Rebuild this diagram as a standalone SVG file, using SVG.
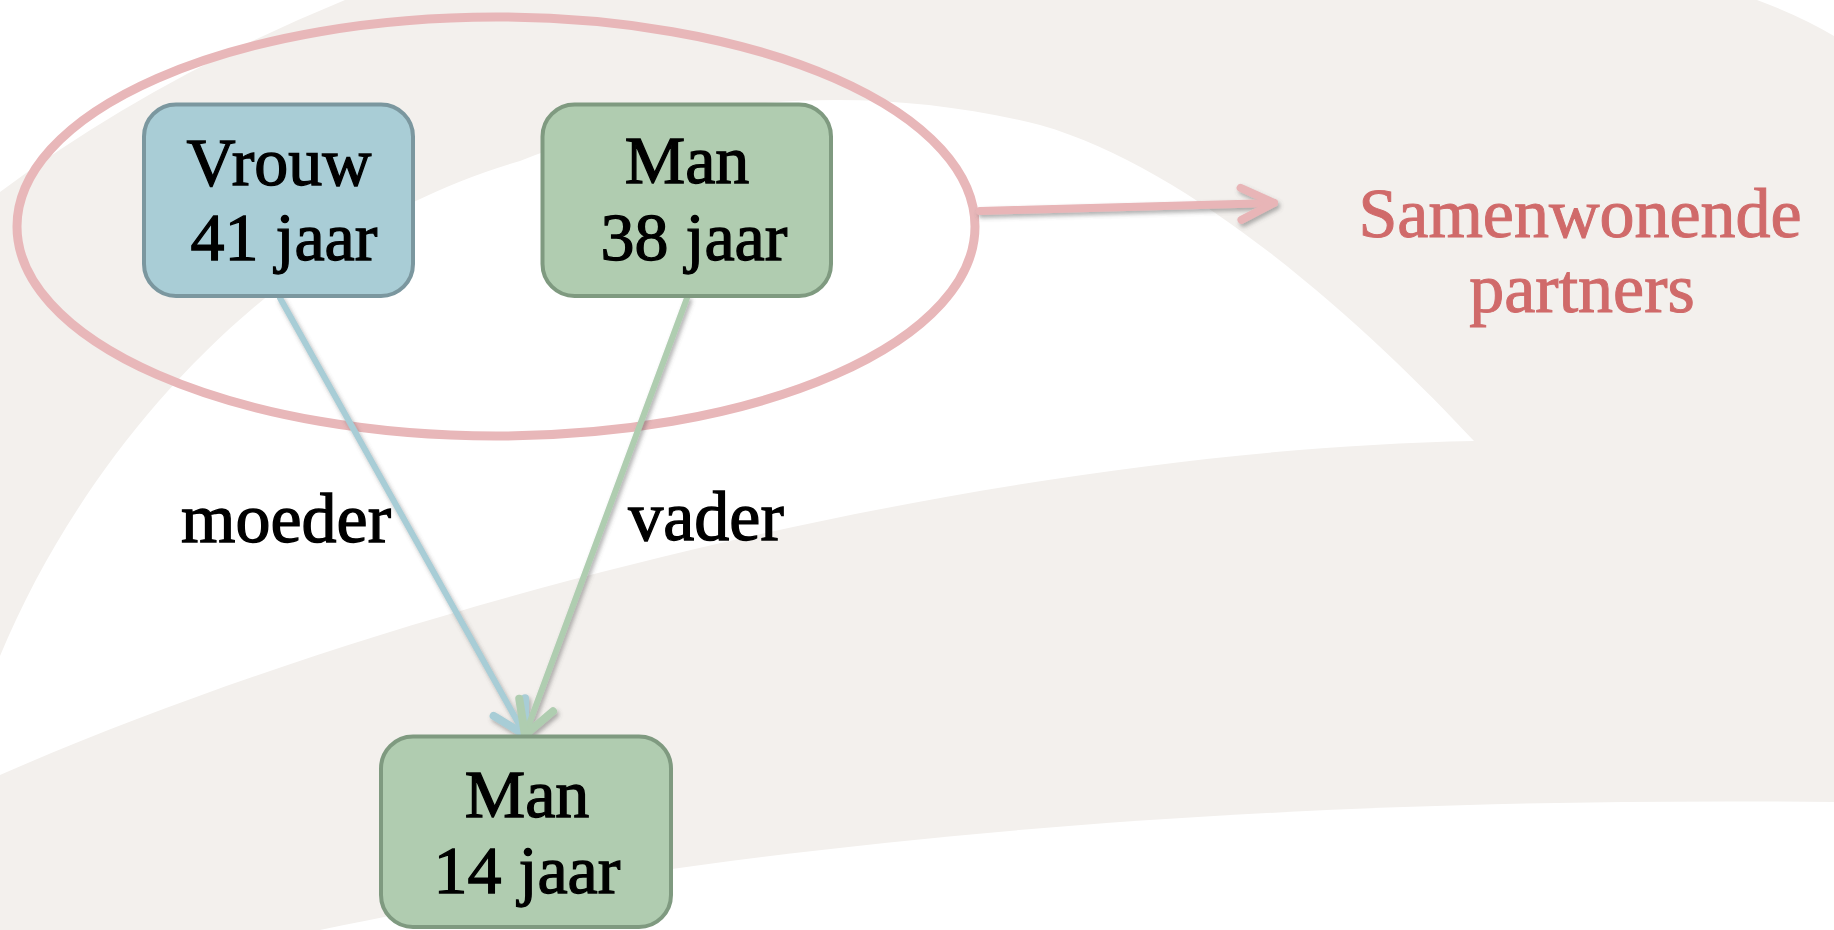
<svg xmlns="http://www.w3.org/2000/svg" width="1834" height="930" viewBox="0 0 1834 930">
  <defs>
    <style>
      .node-text { font-family: "Liberation Serif", "Times New Roman", serif; font-size: 68px; fill: #000; stroke: #000; stroke-width: 1.3px; text-anchor: middle; }
      .label { font-family: "Liberation Serif", "Times New Roman", serif; font-size: 70px; fill: #000; stroke: #000; stroke-width: 1.3px; text-anchor: middle; }
      .pink-text { font-family: "Liberation Serif", "Times New Roman", serif; font-size: 70px; fill: #d06a6a; stroke: #d06a6a; stroke-width: 1px; text-anchor: middle; }
      .box-blue { fill: #a9cdd6; stroke: #7b979f; stroke-width: 4; }
      .box-green { fill: #b0ccb0; stroke: #7f9a80; stroke-width: 4; }
      .conn { fill: none; stroke-linecap: round; stroke-linejoin: round; }
    </style>
    <filter id="shadow" x="-10%" y="-10%" width="130%" height="130%">
      <feDropShadow dx="2" dy="3" stdDeviation="2" flood-color="#555" flood-opacity="0.45"/>
    </filter>
    <marker id="arrow-blue" markerUnits="userSpaceOnUse" viewBox="-40 -25 45 50" refX="0" refY="0" markerWidth="45" markerHeight="50" orient="auto">
      <polyline points="-32,-18 0,0 -32,18" fill="none" stroke="#a8cdd6" stroke-width="8" stroke-linecap="round" stroke-linejoin="round"/>
    </marker>
    <marker id="arrow-green" markerUnits="userSpaceOnUse" viewBox="-40 -25 45 50" refX="0" refY="0" markerWidth="45" markerHeight="50" orient="auto">
      <polyline points="-32,-18 0,0 -32,18" fill="none" stroke="#afcdb0" stroke-width="8" stroke-linecap="round" stroke-linejoin="round"/>
    </marker>
    <marker id="arrow-pink" markerUnits="userSpaceOnUse" viewBox="-40 -25 45 50" refX="0" refY="0" markerWidth="45" markerHeight="50" orient="auto">
      <polyline points="-33,-16 0,0 -33,16" fill="none" stroke="#e8b5b7" stroke-width="8" stroke-linecap="round" stroke-linejoin="round"/>
    </marker>
  </defs>

  <!-- background -->
  <g id="background">
    <rect x="0" y="0" width="1834" height="930" fill="#f3f0ed"/>
    <path d="M0,0 L345,0 Q150,80 0,192 Z" fill="#ffffff"/>
    <path d="M1757,0 L1834,0 L1834,36 Q1800,16 1757,0 Z" fill="#ffffff"/>
    <path d="M0,656 C90,440 280,230 520,161 C700,90 880,85 1040,125 C1200,170 1380,340 1474,441 C1000,450 400,600 0,775 Z" fill="#ffffff"/>
    <path d="M320,930 C700,850 1200,795 1834,802 L1834,930 Z" fill="#ffffff"/>
  </g>

  <!-- group ellipse -->
  <g id="partners-ellipse">
    <ellipse cx="496" cy="226.5" rx="479" ry="209.5" fill="none" stroke="#e8b7b9" stroke-width="9"/>
  </g>

  <!-- connectors -->
  <g id="connectors" class="conn" filter="url(#shadow)">
    <line x1="280" y1="298" x2="525" y2="735" stroke="#a8cdd6" stroke-width="6" marker-end="url(#arrow-blue)"/>
    <line x1="687" y1="298" x2="525" y2="735" stroke="#afcdb0" stroke-width="6" marker-end="url(#arrow-green)"/>
    <line x1="980" y1="211" x2="1274" y2="203" stroke="#e8b5b7" stroke-width="8" marker-end="url(#arrow-pink)"/>
  </g>

  <!-- nodes -->
  <g id="node-vrouw">
    <rect class="box-blue" x="144" y="104.5" width="269" height="191.5" rx="32" ry="32"/>
    <text class="node-text" x="279" y="185">Vrouw</text>
    <text class="node-text" x="284" y="260">41 jaar</text>
  </g>
  <g id="node-man38">
    <rect class="box-green" x="542.5" y="104.5" width="288.5" height="191.5" rx="32" ry="32"/>
    <text class="node-text" x="687" y="183">Man</text>
    <text class="node-text" x="694" y="260">38 jaar</text>
  </g>
  <g id="node-man14">
    <rect class="box-green" x="381" y="736.5" width="290" height="190.5" rx="32" ry="32"/>
    <text class="node-text" x="527" y="817">Man</text>
    <text class="node-text" x="527" y="893">14 jaar</text>
  </g>

  <!-- labels -->
  <g id="labels">
    <text class="label" x="286" y="542">moeder</text>
    <text class="label" x="706" y="540">vader</text>
  </g>
  <g id="node-samenwonende">
    <text class="pink-text" x="1580" y="237">Samenwonende</text>
    <text class="pink-text" x="1582" y="312">partners</text>
  </g>
</svg>
